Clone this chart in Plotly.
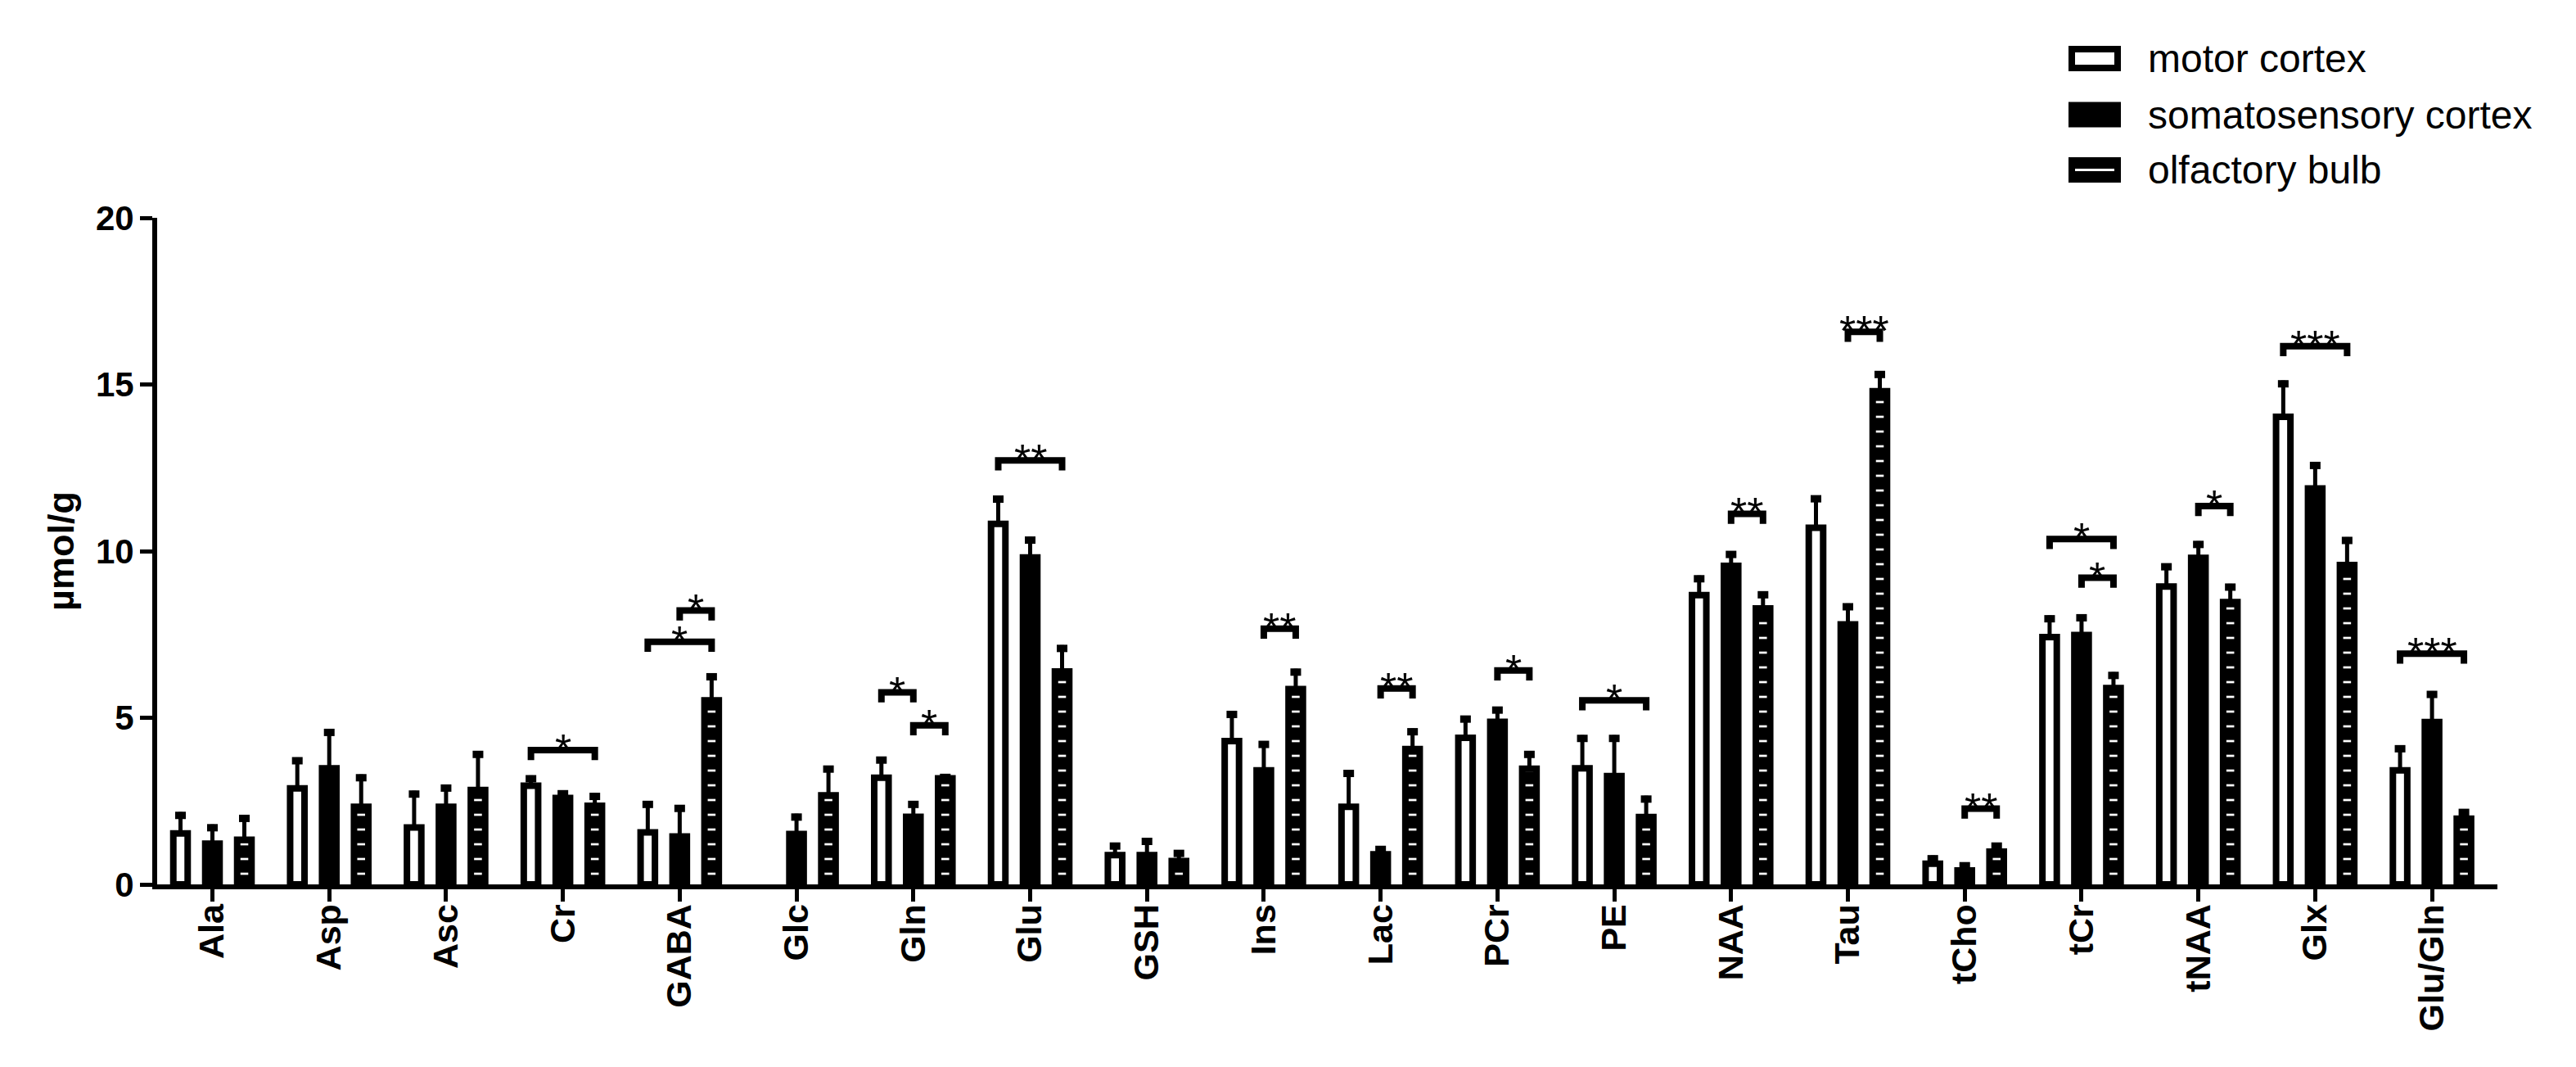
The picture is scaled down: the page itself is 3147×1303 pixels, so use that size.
import plotly.graph_objects as go

# metabolite concentrations (umol/g), mean and SD, per region
categories = ["Ala", "Asp", "Asc", "Cr", "GABA", "Glc", "Gln", "Glu", "GSH", "Ins",
              "Lac", "PCr", "PE", "NAA", "Tau", "tCho", "tCr", "tNAA", "Glx", "Glu/Gln"]

motor = [1.53, 2.88, 1.71, 2.96, 1.56, None, 3.20, 10.82, 0.88, 4.30,
         2.33, 4.40, 3.48, 8.68, 10.70, 0.62, 7.42, 8.94, 14.03, 3.42]
motor_sd = [0.64, 0.93, 1.10, 0.31, 0.94, None, 0.63, 0.84, 0.37, 0.90,
            1.10, 0.66, 1.00, 0.59, 0.97, 0.25, 0.65, 0.69, 1.09, 0.75]

somato = [1.22, 3.48, 2.33, 2.59, 1.44, 1.51, 2.03, 9.81, 0.88, 3.42,
          0.90, 4.88, 3.25, 9.56, 7.80, 0.42, 7.48, 9.80, 11.88, 4.87]
somato_sd = [0.58, 1.18, 0.66, 0.23, 0.94, 0.61, 0.47, 0.62, 0.51, 0.88,
             0.25, 0.45, 1.23, 0.44, 0.63, 0.24, 0.62, 0.50, 0.79, 0.93]

olfactory = [1.34, 2.33, 2.83, 2.36, 5.52, 2.67, 3.18, 6.39, 0.70, 5.86,
             4.06, 3.47, 2.02, 8.28, 14.80, 0.98, 5.89, 8.47, 9.58, 1.97]
olfactory_sd = [0.74, 0.97, 1.17, 0.38, 0.81, 0.89, 0.13, 0.79, 0.33, 0.61,
                0.62, 0.53, 0.64, 0.51, 0.60, 0.27, 0.48, 0.55, 0.84, 0.29]

series_names = ["motor cortex", "somatosensory cortex", "olfactory bulb"]

# significance brackets: (category index, first bar, second bar, height, label)
brackets = [
    (3, 0, 2, 4.03, "*"),
    (4, 0, 2, 7.28, "*"),
    (4, 1, 2, 8.22, "*"),
    (6, 0, 1, 5.76, "*"),
    (6, 1, 2, 4.77, "*"),
    (7, 0, 2, 12.72, "**"),
    (9, 1, 2, 7.67, "**"),
    (10, 1, 2, 5.88, "**"),
    (11, 1, 2, 6.42, "*"),
    (12, 0, 2, 5.52, "*"),
    (13, 1, 2, 11.12, "**"),
    (14, 1, 2, 16.58, "***"),
    (15, 1, 2, 2.27, "**"),
    (16, 0, 2, 10.36, "*"),
    (16, 1, 2, 9.20, "*"),
    (17, 1, 2, 11.35, "*"),
    (18, 0, 2, 16.15, "***"),
    (19, 0, 2, 6.92, "***"),
]

# page body has an 8px margin, so the plot box is laid out 8px up/left
W, H = 3147, 1303
L, R, T, B = 184, 104, 258, 231
BARGAP = 0.18
SLOT = (1 - BARGAP) / 3
FONT = "Liberation Sans, Arial, sans-serif"

xs = list(range(len(categories)))
fills = ["white", "black", "black"]
means = [motor, somato, olfactory]
sds = [motor_sd, somato_sd, olfactory_sd]

fig = go.Figure()
for k in range(3):
    marker = dict(color=fills[k], line=dict(color="black", width=8))
    if k == 2:
        marker["pattern"] = dict(shape="-", fillmode="replace", bgcolor="black",
                                 fgcolor="white", size=18, solidity=0.15)
    fig.add_trace(go.Bar(
        x=xs, y=means[k], name=series_names[k], marker=marker,
        error_y=dict(type="data", array=[s or 0 for s in sds[k]],
                     arrayminus=[0] * len(xs), symmetric=False,
                     color="black", thickness=5, width=0),
    ))

# blocky error-bar caps (Prism style)
for k in range(3):
    cap_x = [i + (k - 1) * SLOT for i in xs]
    cap_y = [None if m is None else m + s - 0.1 for m, s in zip(means[k], sds[k])]
    fig.add_trace(go.Scatter(
        x=cap_x, y=cap_y, mode="markers", hoverinfo="skip", showlegend=False,
        marker=dict(symbol="line-ew", size=9.3, line=dict(color="black", width=9)),
    ))

# significance brackets + stars
drop = 0.3
for cat, a, b, yb, label in brackets:
    xa = cat + (a - 1) * SLOT
    xb = cat + (b - 1) * SLOT
    fig.add_shape(type="path", xref="x", yref="y",
                  path=f"M{xa},{yb - drop} L{xa},{yb} L{xb},{yb} L{xb},{yb - drop}",
                  line=dict(color="black", width=8))
    fig.add_annotation(x=(xa + xb) / 2, y=yb, xref="x", yref="y", text=label,
                       showarrow=False, yanchor="bottom", yshift=-30,
                       font=dict(family=FONT, size=52, color="black"))


# legend drawn by hand (big swatches like the original)
def px_x(p):
    return (p - L) / (W - L - R)


def px_y(p):
    return (H - B - p) / (H - T - B)


rows = [63.5, 132, 199.5]
sx0, sx1, sh = 2519, 2583, 31
for i, (name, yc) in enumerate(zip(series_names, rows)):
    if i == 0:
        fig.add_shape(type="rect", xref="paper", yref="paper",
                      x0=px_x(sx0 + 4), x1=px_x(sx1 - 4),
                      y0=px_y(yc + sh / 2 - 4), y1=px_y(yc - sh / 2 + 4),
                      fillcolor="white", line=dict(color="black", width=8))
    else:
        fig.add_shape(type="rect", xref="paper", yref="paper",
                      x0=px_x(sx0), x1=px_x(sx1),
                      y0=px_y(yc + sh / 2), y1=px_y(yc - sh / 2),
                      fillcolor="black", line=dict(width=0))
    if i == 2:
        fig.add_shape(type="line", xref="paper", yref="paper",
                      x0=px_x(sx0 + 8), x1=px_x(sx1 - 8), y0=px_y(yc), y1=px_y(yc),
                      line=dict(color="white", width=3))
    fig.add_annotation(x=px_x(2614), y=px_y(yc), xref="paper", yref="paper",
                       text=name, showarrow=False, xanchor="left", yanchor="middle",
                       font=dict(family=FONT, size=48, color="black"))

fig.update_layout(
    width=W, height=H,
    margin=dict(l=L, r=R, t=T, b=B),
    plot_bgcolor="white", paper_bgcolor="white",
    barmode="group", bargap=BARGAP, bargroupgap=0.55,
    showlegend=False,
    font=dict(family=FONT, color="black"),
)
fig.update_xaxes(
    range=[-0.473, 19.56], tickvals=xs, ticktext=categories, tickangle=-90,
    ticks="outside", ticklen=15, tickwidth=5, tickcolor="black",
    showline=True, linewidth=6, linecolor="black", showgrid=False, zeroline=False,
    tickfont=dict(family=FONT, size=43, weight="bold", color="black"),
    ticklabelstandoff=-14,
)
fig.update_yaxes(
    range=[0, 20], tickvals=[0, 5, 10, 15, 20],
    ticks="outside", ticklen=15, tickwidth=5, tickcolor="black",
    showline=True, linewidth=6, linecolor="black", showgrid=False, zeroline=False,
    tickfont=dict(family=FONT, size=42, weight="bold", color="black"),
    ticklabelstandoff=-1,
    title=dict(text="µmol/g", standoff=14,
               font=dict(family=FONT, size=45, weight="bold", color="black")),
)

fig.write_html("out.html")
